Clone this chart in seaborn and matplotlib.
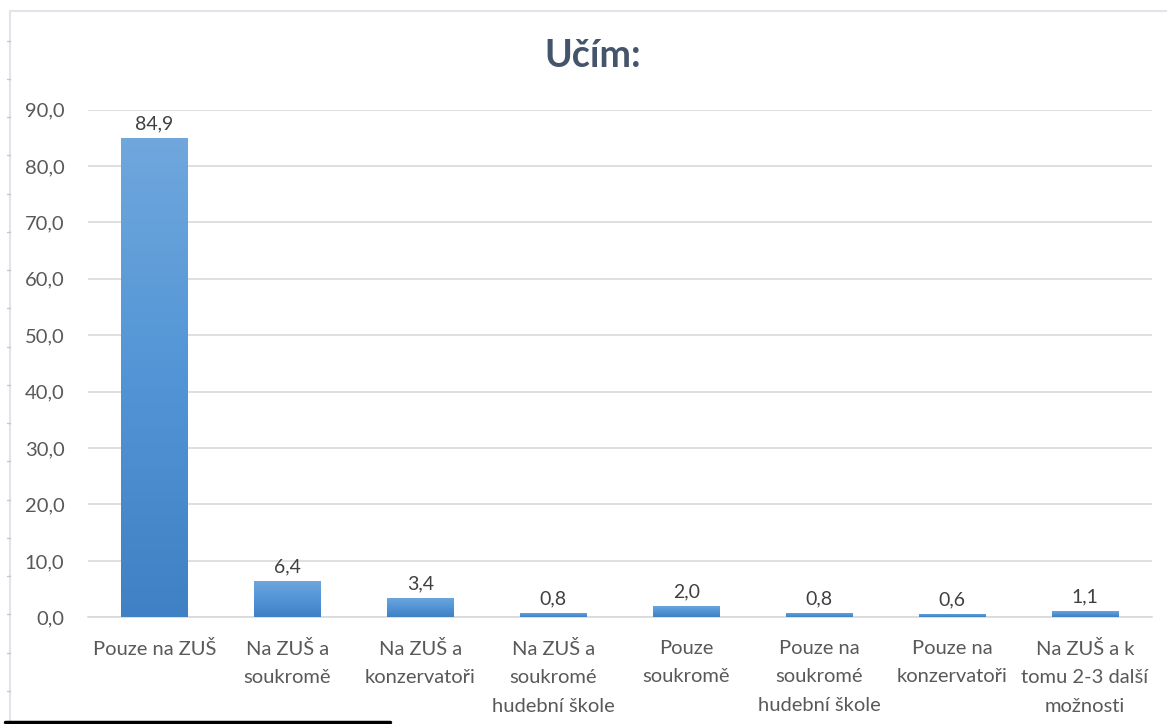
import numpy as np
import pandas as pd
import seaborn as sns
import matplotlib.pyplot as plt
from matplotlib.colors import LinearSegmentedColormap
from matplotlib.lines import Line2D

categories = [
    "Pouze na ZUŠ",
    "Na ZUŠ a\nsoukromě",
    "Na ZUŠ a\nkonzervatoři",
    "Na ZUŠ a\nsoukromé\nhudební škole",
    "Pouze\nsoukromě",
    "Pouze na\nsoukromé\nhudební škole",
    "Pouze na\nkonzervatoři",
    "Na ZUŠ a k\ntomu 2-3 další\nmožnosti",
]
values = [84.9, 6.4, 3.4, 0.8, 2.0, 0.8, 0.6, 1.1]
yticks = [0, 10, 20, 30, 40, 50, 60, 70, 80, 90]

df = pd.DataFrame({"kat": categories, "pct": values})

sns.set_theme(style="white")
plt.rcParams["font.family"] = ["Lato", "DejaVu Sans"]

fig = plt.figure(figsize=(11.67, 7.24), dpi=100)
ax = fig.add_axes([88 / 1167, 1 - 617.3 / 724, (1151.5 - 88) / 1167, (617.3 - 109.5) / 724])

sns.barplot(data=df, x="kat", y="pct", color="#5b9bd5", width=0.5, ax=ax, zorder=3)

# gradient fill like Excel
grad = LinearSegmentedColormap.from_list("g", ["#4080c4", "#5295d6", "#70a7dd"])
g = np.linspace(0, 1, 256).reshape(-1, 1)
for p in ax.patches:
    x0, y0 = p.get_x(), p.get_y()
    w, h = p.get_width(), p.get_height()
    p.set_facecolor("none")
    p.set_edgecolor("none")
    im = ax.imshow(g, cmap=grad, origin="lower", aspect="auto",
                   extent=[x0, x0 + w, y0, y0 + h], zorder=3)
    im.set_clip_path(p)
    ax.text(x0 + w / 2, y0 + h + 1.0, f"{h:.1f}".replace(".", ","),
            ha="center", va="bottom", fontsize=14, color="#404040", zorder=4)

ax.set_xlim(-0.5, len(categories) - 0.5)
ax.set_ylim(0, 90)
ax.set_yticks(yticks)
ax.set_yticklabels([f"{v:.1f}".replace(".", ",") for v in yticks])
ax.grid(axis="y", color="#d9d9d9", linewidth=1.2, zorder=0)
for s in ["top", "right", "left"]:
    ax.spines[s].set_visible(False)
ax.spines["bottom"].set_color("#d9d9d9")
ax.spines["bottom"].set_linewidth(1.2)
ax.tick_params(axis="both", length=0, labelsize=14.5, colors="#595959")
ax.tick_params(axis="y", pad=17)
ax.tick_params(axis="x", pad=16)
ax.set_xlabel("")
ax.set_ylabel("")
for lbl in ax.get_xticklabels():
    lbl.set_linespacing(1.85)
    lbl.set_va("top")

fig.text(593 / 1167, 1 - 56 / 724, "Učím:", ha="center", va="center",
         fontsize=27, fontweight="bold", color="#44546a")

# chart frame (left and top edges) and page marks
frame_c = "#e1e4ea"
fig.add_artist(Line2D([9.5 / 1167, 9.5 / 1167], [0, 1 - 10.5 / 724], color=frame_c, lw=1.5))
fig.add_artist(Line2D([9.5 / 1167, 1], [1 - 10.5 / 724, 1 - 10.5 / 724], color=frame_c, lw=1.5))
for yy in np.arange(40.5, 724, 38.25):
    fig.add_artist(Line2D([6.5 / 1167, 9.5 / 1167], [1 - yy / 724] * 2, color="#c8c8c8", lw=1))

# footnote separator line
fig.add_artist(Line2D([5 / 1167, 390 / 1167], [1 - 722 / 724] * 2, color="black", lw=2.5))

fig.savefig("out.png", dpi=100)
